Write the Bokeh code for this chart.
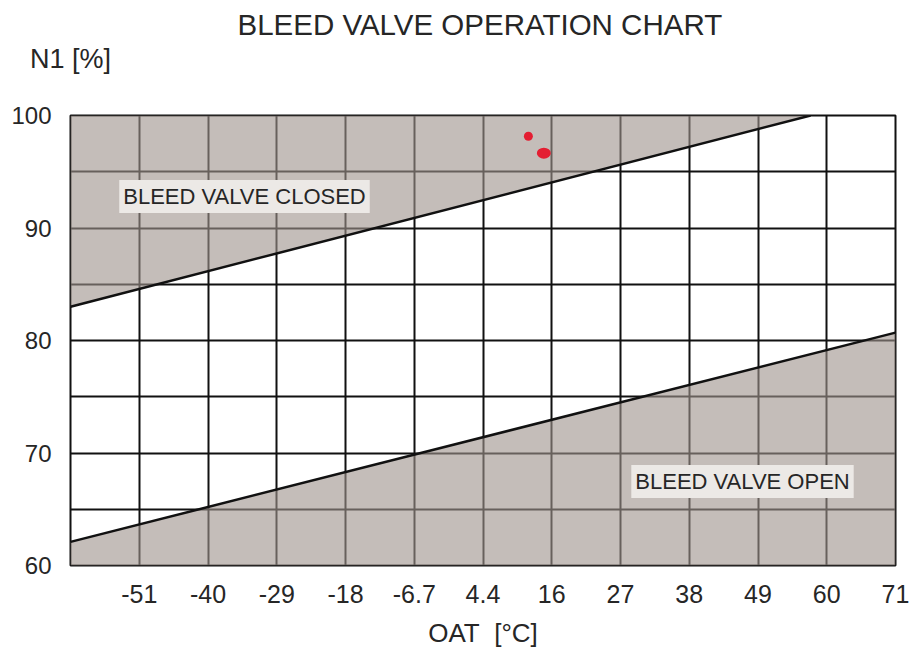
from bokeh.plotting import figure
from bokeh.models import FixedTicker, Label, Range1d, LinearAxis
from bokeh.embed import file_html
from bokeh.resources import INLINE

# ---- data (OAT positions stored in °F, the chart's underlying scale; labels in °C) ----
oat_tick_pos_f = [-60, -40, -20, 0, 20, 40, 60, 80, 100, 120, 140, 160]
oat_tick_labels_c = ["-51", "-40", "-29", "-18", "-6.7", "4.4", "16", "27", "38", "49", "60", "71"]
oat_range_f = [-80, 160]
n1_range = [60, 100]
n1_tick_vals = [60, 70, 80, 90, 100]
n1_grid_vals = [60, 65, 70, 75, 80, 85, 90, 95, 100]

upper_boundary_oat_f = [-80, 135.3]
upper_boundary_n1 = [83.0, 100.0]
lower_boundary_oat_f = [-80, 160]
lower_boundary_n1 = [62.1, 80.7]

points_oat_f = [53.2, 57.7]
points_n1 = [98.16, 96.65]

# ---- layout ----
FRAME_W, FRAME_H = 825, 450
LEFT, TOP = 70, 115
W, H = 910, 648

p = figure(width=W, height=H, frame_width=FRAME_W, frame_height=FRAME_H,
           min_border_left=LEFT, min_border_right=W - LEFT - FRAME_W,
           min_border_top=TOP, min_border_bottom=H - TOP - FRAME_H,
           x_range=Range1d(*oat_range_f), y_range=Range1d(*n1_range),
           output_backend="svg", toolbar_location=None)
p.background_fill_color = "white"
p.border_fill_color = "white"
p.outline_line_color = "#111111"
p.outline_line_width = 2

FONT = "Liberation Sans"
TXT = "#262626"

def plain_axis(ax):
    ax.axis_line_color = None
    ax.major_tick_line_color = None
    ax.minor_tick_line_color = None
    ax.major_tick_out = 0
    ax.major_tick_in = 0
    ax.major_label_text_font = FONT
    ax.major_label_text_color = TXT

# axes
plain_axis(p.xaxis[0])
plain_axis(p.yaxis[0])
p.xaxis.ticker = FixedTicker(ticks=oat_tick_pos_f)
p.xaxis.major_label_overrides = {t: l for t, l in zip(oat_tick_pos_f, oat_tick_labels_c)}
p.xaxis.major_label_text_font_size = "25px"
p.xaxis.major_label_standoff = 19
p.xaxis.axis_label = "OAT\u00a0\u00a0[°C]"
p.xaxis.axis_label_text_font = FONT
p.xaxis.axis_label_text_font_size = "26px"
p.xaxis.axis_label_text_font_style = "normal"
p.xaxis.axis_label_text_color = TXT
p.xaxis.axis_label_standoff = 12
p.yaxis.ticker = FixedTicker(ticks=n1_tick_vals)
p.yaxis.major_label_text_font_size = "24px"
p.yaxis.major_label_standoff = 19

# "N1 [%]" caption: an axis above the frame whose single label sits at the left edge
xmin, xmax = oat_range_f
ymin, ymax = n1_range
top_axis = LinearAxis(ticker=FixedTicker(ticks=[xmin]),
                      major_label_overrides={xmin: "N1 [%]"})
plain_axis(top_axis)
top_axis.major_label_text_font_size = "27px"
top_axis.major_label_standoff = 42
p.add_layout(top_axis, "above")

# title
p.title.text = "BLEED VALVE OPERATION CHART"
p.title.align = "left"
p.title.offset = 167
p.title.standoff = 0
p.title.text_font = FONT
p.title.text_font_size = "29.5px"
p.title.text_font_style = "normal"
p.title.text_color = TXT

# grid
p.xgrid.ticker = FixedTicker(ticks=oat_tick_pos_f)
p.ygrid.ticker = FixedTicker(ticks=n1_grid_vals)
for g in (p.xgrid[0], p.ygrid[0]):
    g.grid_line_color = "#111111"
    g.grid_line_width = 2
    g.grid_line_alpha = 1.0

# shaded regions (semi-transparent so the grid shows through darker-gray)
shade = (158, 147, 140)
p.patch([upper_boundary_oat_f[0], upper_boundary_oat_f[1], xmin],
        [upper_boundary_n1[0], upper_boundary_n1[1], ymax],
        fill_color=shade, fill_alpha=0.61, line_color=None)
p.patch([lower_boundary_oat_f[0], lower_boundary_oat_f[1], xmax, xmin],
        [lower_boundary_n1[0], lower_boundary_n1[1], ymin, ymin],
        fill_color=shade, fill_alpha=0.61, line_color=None)

p.line(upper_boundary_oat_f, upper_boundary_n1, line_color="#111111", line_width=2.5)
p.line(lower_boundary_oat_f, lower_boundary_n1, line_color="#111111", line_width=2.5)

# red points
p.ellipse(points_oat_f, points_n1, width=[9, 14], height=[9, 11],
          width_units="screen", height_units="screen",
          fill_color="#e41e32", line_color=None)

# helpers: canvas pixel -> data (for text placement only)
PX_X = FRAME_W / (xmax - xmin)
PX_Y = FRAME_H / (ymax - ymin)
def dx(px):
    return xmin + (px - LEFT) / PX_X
def dy(py):
    return ymax - (py - TOP) / PX_Y

# region labels
for txt, cx, cy in [("BLEED VALVE CLOSED", 244, 196), ("BLEED VALVE OPEN", 742, 481)]:
    p.add_layout(Label(x=dx(cx), y=dy(cy), text=txt, text_align="center",
                       text_baseline="middle", text_font=FONT, text_font_size="22px",
                       text_color=TXT, background_fill_color="#ece9e6",
                       background_fill_alpha=1.0, padding=4))

open("out.html", "w").write(file_html(p, INLINE))
